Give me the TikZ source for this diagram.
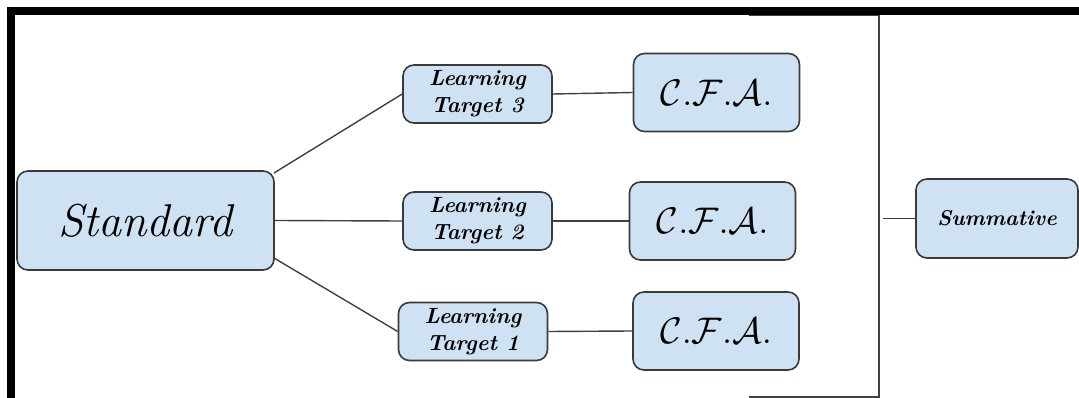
\documentclass[tikz,border=0pt]{standalone}
\usepackage{fix-cm}
\usepackage{fontspec}
\usepackage{amsmath}
\definecolor{boxfill}{HTML}{CFE2F3}
\definecolor{boxline}{HTML}{3A3A3A}
\definecolor{conn}{HTML}{404040}
\tikzset{
  box/.style={draw=boxline, line width=1.6pt, fill=boxfill, rounded corners=11pt, inner sep=0pt, align=center, anchor=center},
  stdbox/.style={box, minimum width=257pt, minimum height=99pt, font=\fontsize{46}{50}\selectfont\itshape},
  ltbox/.style={box, minimum width=149pt, minimum height=58pt, font=\fontsize{22}{27}\selectfont\bfseries\itshape},
  cfabox/.style={box, minimum width=166pt, minimum height=78pt, font=\fontsize{37}{40}\selectfont},
  sumbox/.style={box, minimum width=162pt, minimum height=79pt, font=\fontsize{21.5}{24}\selectfont\bfseries\itshape},
  conn/.style={draw=conn, line width=1.4pt},
}
\begin{document}
\begin{tikzpicture}[x=1pt,y=-1pt]
\useasboundingbox (0,0) rectangle (1079,398);
% black frame
\fill[black] (7,7) rectangle (1079,15);
\fill[black] (7,7) rectangle (15,398);
% nodes
\node[stdbox] (std) at (145.5,220.5) {Standard};
\node[ltbox] (lt3) at (477.5,94) {Learning\\Target 3};
\node[ltbox] (lt2) at (477.5,221) {Learning\\Target 2};
\node[ltbox] (lt1) at (473,331.5) {Learning\\Target 1};
\node[cfabox] (cfa3) at (716.5,92.5) {$\mathcal{C}.\mathcal{F}.\mathcal{A}.$};
\node[cfabox] (cfa2) at (712.5,221) {$\mathcal{C}.\mathcal{F}.\mathcal{A}.$};
\node[cfabox] (cfa1) at (716,331) {$\mathcal{C}.\mathcal{F}.\mathcal{A}.$};
\node[sumbox] (sum) at (997,218.5) {Summative};
% bracket
\coordinate (bt) at (750,15.5);
\coordinate (btr) at (879,15.5);
\coordinate (bbr) at (879,397);
\coordinate (bb) at (750,397);
\coordinate (bm) at (883,218.5);
\draw[conn, line cap=rect] (bt) -- (btr) -- (bbr) -- (bb);
\draw[conn] (bm) -- (sum.west);
% connectors
\coordinate (s3a) at (274,173);
\coordinate (s1a) at (274,258);
\draw[conn] (s3a) -- (lt3.west);
\draw[conn] (std.east) -- (lt2.west);
\draw[conn] (s1a) -- (lt1.west);
\draw[conn] (lt3.east) -- (cfa3.west);
\draw[conn] (lt2.east) -- (cfa2.west);
\draw[conn] (lt1.east) -- (cfa1.west);
\end{tikzpicture}
\end{document}
